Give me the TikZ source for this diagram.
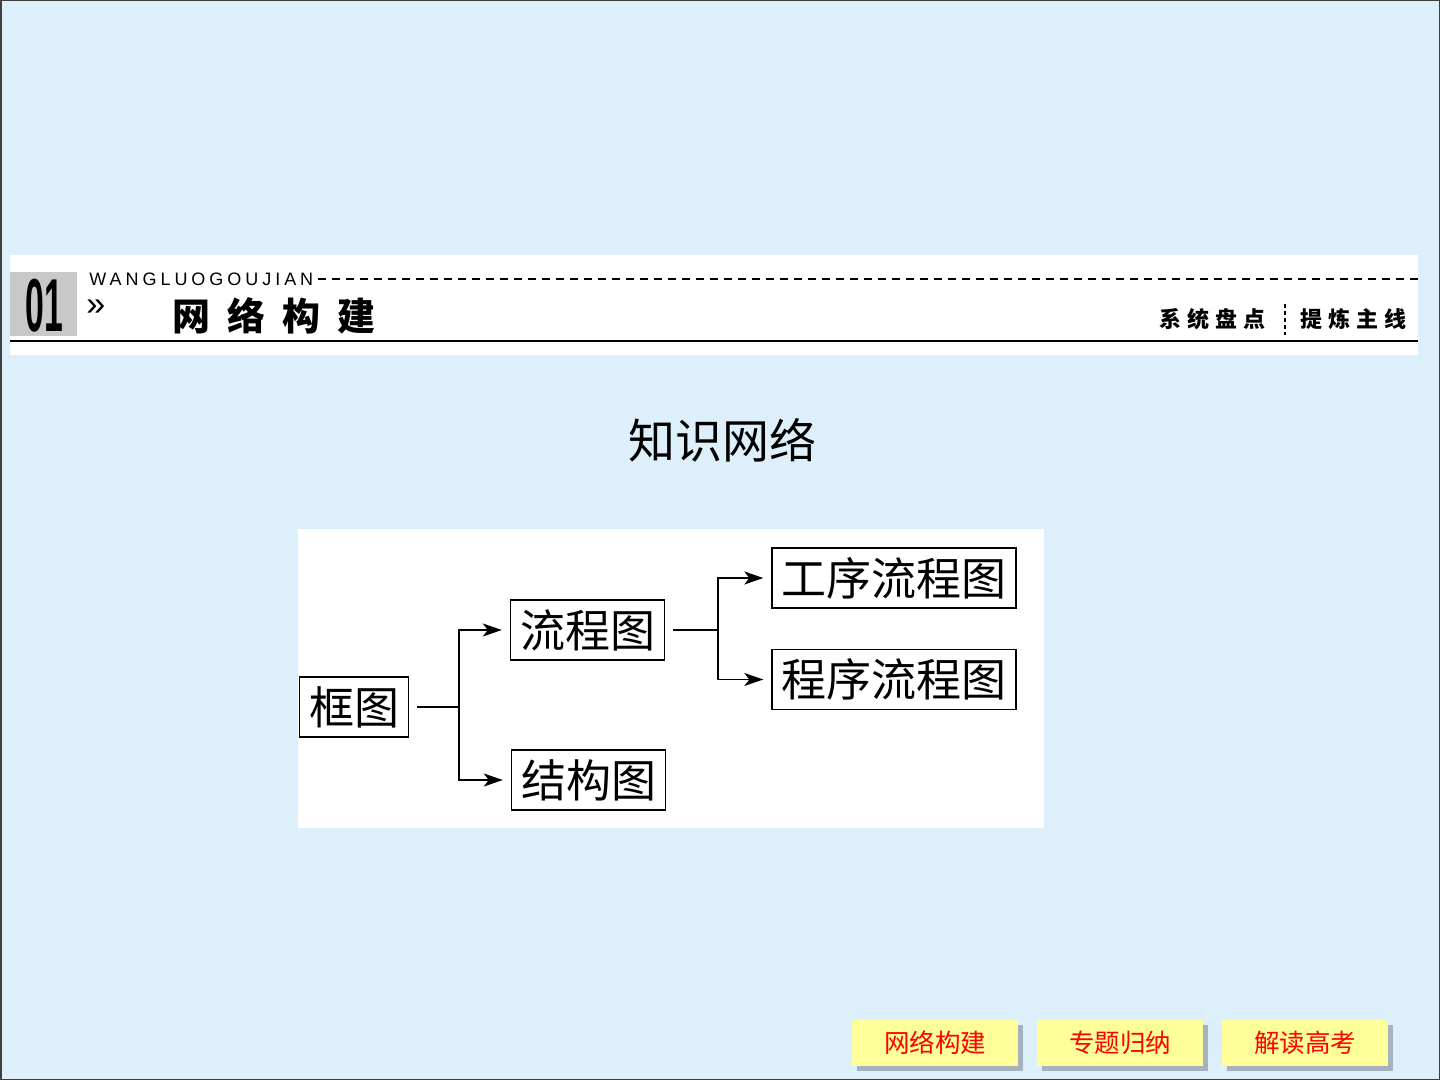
\documentclass[tikz,border=0pt]{standalone}
\usepackage{fontspec}
\usepackage{graphicx}
\usetikzlibrary{arrows.meta,shadows}
\newfontfamily\cjk{Noto Sans CJK SC}
\newfontfamily\latin{Liberation Sans}
\newfontfamily\spaced[LetterSpace=22]{Liberation Sans}
\definecolor{bgblue}{HTML}{DDEFFA}
\definecolor{graybox}{HTML}{C8C8C8}
\definecolor{btnyellow}{HTML}{FFFF99}
\definecolor{btnshadow}{HTML}{A7B2BF}

\tikzset{
  box/.style = {draw, line width=0.7pt, fill=white, inner xsep=4.75pt,
                minimum height=30pt, text height=19.8pt, text depth=2.7pt,
                font=\cjk\fontsize{22.5}{27}\selectfont},
  link/.style = {line width=0.75pt},
  arr/.style = {line width=0.75pt, -{Stealth[length=9.5pt,width=6.5pt,inset=2.5pt]}, shorten >=4pt},
  button/.style = {fill=btnyellow, minimum width=83pt, minimum height=23pt, text=red,
                   font=\cjk\fontsize{12.75}{15}\selectfont,
                   drop shadow={shadow xshift=2.5pt, shadow yshift=-2.5pt, fill=btnshadow, opacity=1}}
}

\begin{document}
\begin{tikzpicture}[x=0.5pt,y=-0.5pt]

% background and frame
\fill[bgblue] (0,0) rectangle (1440,1080);
\useasboundingbox (0,0) rectangle (1440,1080);
\draw[black!75, line width=1pt] (0.5,0.5) rectangle (1439.5,1079.5);

% header band
\fill[white] (10,255) rectangle (1418,355);
\fill[graybox] (10,272) rectangle (77,336);
\node (num) at (44.5,306) {\latin\fontsize{37.5}{40}\selectfont\scalebox{0.45}[1]{\bfseries 01}};
\node[anchor=base west, inner sep=0pt] (quote) at (86,316) {\latin\fontsize{17}{19}\selectfont »};
\node[anchor=west, inner sep=0pt] (pinyin) at (89,279) {\spaced\fontsize{9}{11}\selectfont WANGLUOGOUJIAN};
\draw[line width=1pt, dash pattern=on 4pt off 3pt] (318,279) -- (1418,279);
\node[anchor=west, inner sep=0pt] (heading) at (172,316)
  {\cjk\fontsize{19}{22}\selectfont\bfseries 网\hspace{8.5pt}络\hspace{8.5pt}构\hspace{8.5pt}建};
\draw[line width=1.2pt] (10,341) -- (1418,341);
\node[anchor=east, inner sep=0pt] (review) at (1266,319)
  {\cjk\fontsize{11}{13}\selectfont\bfseries 系\hspace{3pt}统\hspace{3pt}盘\hspace{3pt}点};
\draw[line width=0.7pt, dash pattern=on 2pt off 1.5pt] (1285,304) -- (1285,335);
\node[anchor=west, inner sep=0pt] (mainline) at (1300,319)
  {\cjk\fontsize{11}{13}\selectfont\bfseries 提\hspace{3pt}炼\hspace{3pt}主\hspace{3pt}线};

% title
\node (title) at (722,440) {\cjk\fontsize{23.5}{28}\selectfont 知识网络};

% diagram
\fill[white] (298,529) rectangle (1044,828);

\node[box] (kuangtu) at (354,707) {框图};
\node[box] (liucheng) at (587.5,630) {流程图};
\node[box] (jiegou) at (588.5,780) {结构图};
\node[box] (gongxu) at (894,578) {工序流程图};
\node[box] (chengxu) at (894,679.5) {程序流程图};

\coordinate (split1) at (459,707);
\coordinate (split2) at (718,630);

\draw[link, shorten <=4pt] (kuangtu.east) -- (split1);
\draw[arr] (split1) |- (liucheng.west);
\draw[arr] (split1) |- (jiegou.west);

\draw[link, shorten <=4pt] (liucheng.east) -- (split2);
\draw[arr] (split2) |- (gongxu.west);
\draw[arr] (split2) |- (chengxu.west);

% navigation buttons
\node[button] (btnnet) at (935,1043) {网络构建};
\node[button] (btntopic) at (1120,1043) {专题归纳};
\node[button] (btnexam) at (1305,1043) {解读高考};

\end{tikzpicture}
\end{document}
